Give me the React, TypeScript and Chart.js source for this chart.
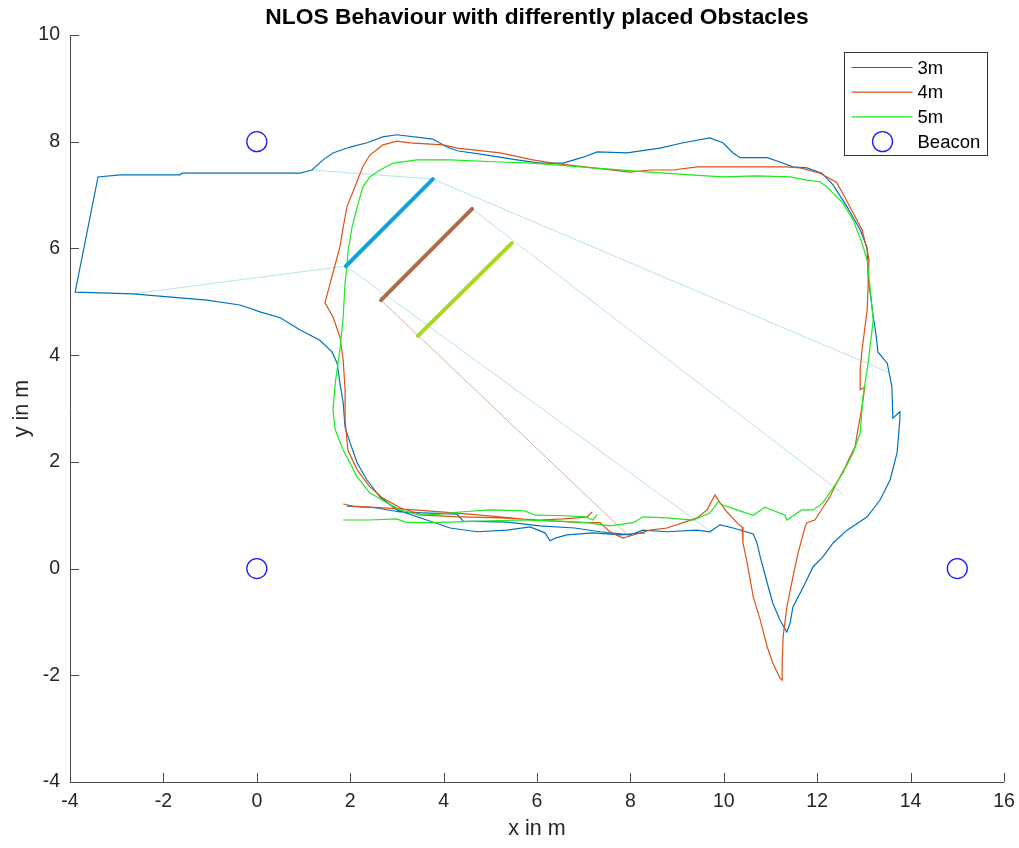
import { useEffect, useRef } from "react";
import { Chart, registerables } from "chart.js";

Chart.register(...registerables);

const TITLE = "NLOS Behaviour with differently placed Obstacles";
const X_LABEL = "x in m";
const Y_LABEL = "y in m";
const X_MIN = -4;
const X_MAX = 16;
const Y_MIN = -4;
const Y_MAX = 10;
const TICK_STEP = 2;

// Trajectory with the obstacle at 3 m
const track3mX = [
  1.93, 2.53, 3.07, 3.71, 4.29, 4.42, 5.36, 6.06, 6.81, 7.35,
  7.99, 8.27, 8.78, 9.43, 9.70, 9.92, 10.20, 10.63, 10.71, 10.78,
  10.93, 11.05, 11.20, 11.35, 11.42, 11.48, 11.70, 11.91, 12.12, 12.34,
  12.64, 13.07, 13.35, 13.56, 13.71, 13.77, 13.77, 13.62, 13.60, 13.50,
  13.30, 13.26, 13.20, 13.09, 13.07, 12.92, 12.64, 12.34, 12.10, 11.78,
  11.48, 11.20, 10.93, 10.35, 10.20, 9.98, 9.70, 9.13, 8.63, 7.93,
  7.29, 6.99, 6.56, 6.06, 5.57, 4.93, 4.29, 4.07, 3.77, 3.00,
  2.70, 2.36, 2.00, 1.63, 1.42, 1.18, 0.93, -0.36, -1.60, -1.65,
  -2.93, -3.40, -3.89, -2.65, -1.07, -0.36, 0.07, 0.50, 0.93, 1.35,
  1.61, 1.72, 1.78, 1.85, 1.89, 2.00, 2.15, 2.36, 2.64, 3.00,
  3.64, 4.14, 4.72, 5.36, 5.85, 6.17, 6.28, 6.39, 6.64, 7.20, 7.78, 8.31,
];
const track3mY = [
  1.17, 1.14, 1.06, 1.04, 1.02, 0.89, 0.87, 0.80, 0.76, 0.69,
  0.63, 0.72, 0.69, 0.72, 0.69, 0.82, 0.76, 0.65, 0.48, 0.22,
  -0.27, -0.65, -0.96, -1.19, -1.02, -0.72, -0.35, 0.03, 0.22, 0.48,
  0.72, 0.97, 1.29, 1.66, 2.17, 2.79, 2.94, 2.82, 3.40, 3.85,
  4.06, 4.38, 4.72, 5.47, 6.01, 6.35, 6.78, 7.19, 7.41, 7.51,
  7.53, 7.62, 7.70, 7.70, 7.79, 7.98, 8.07, 7.98, 7.88, 7.79,
  7.81, 7.71, 7.60, 7.60, 7.66, 7.75, 7.83, 7.90, 8.05, 8.13,
  8.09, 7.98, 7.90, 7.79, 7.66, 7.47, 7.41, 7.41, 7.41, 7.38,
  7.38, 7.34, 5.18, 5.15, 5.03, 4.94, 4.81, 4.70, 4.47, 4.28,
  4.06, 3.85, 3.48, 3.10, 2.65, 2.35, 1.98, 1.66, 1.34, 1.10,
  0.91, 0.76, 0.69, 0.72, 0.78, 0.67, 0.52, 0.57, 0.63, 0.67, 0.63, 0.67,
];

// Trajectory with the obstacle at 4 m
const track4mX = [
  1.85, 2.06, 3.07, 4.29, 5.21, 5.91, 6.99, 7.35, 7.56, 7.84,
  8.06, 8.42, 8.78, 9.13, 9.43, 9.64, 9.81, 9.92, 10.07, 10.28,
  10.39, 10.41, 10.50, 10.63, 10.78, 10.93, 11.05, 11.20, 11.25, 11.25,
  11.27, 11.35, 11.48, 11.59, 11.74, 11.78, 11.95, 12.06, 12.27, 12.45,
  12.60, 12.70, 12.81, 12.87, 12.96, 13.02, 12.92, 12.92, 12.96, 13.07,
  13.11, 13.07, 12.96, 12.70, 12.42, 12.21, 12.06, 11.63, 11.35, 10.71,
  9.98, 9.43, 8.91, 8.42, 7.99, 7.20, 6.34, 5.91, 5.21, 4.29,
  3.99, 3.28, 3.00, 2.70, 2.42, 2.27, 2.10, 1.93, 1.85, 1.78,
  1.63, 1.46, 1.63, 1.78, 1.85, 1.89, 1.89, 1.95, 2.15, 2.42,
  2.70, 3.07, 3.56, 4.35, 5.21, 6.06, 6.56, 6.86, 7.07, 7.18,
];
const track4mY = [
  1.21, 1.17, 1.12, 1.04, 0.97, 0.91, 0.86, 0.86, 0.69, 0.57,
  0.63, 0.72, 0.76, 0.86, 0.95, 1.10, 1.38, 1.23, 1.06, 0.86,
  0.78, 0.48, 0.11, -0.53, -0.96, -1.47, -1.77, -2.05, -2.09, -1.77,
  -1.28, -0.72, -0.16, 0.29, 0.78, 0.86, 0.91, 1.06, 1.34, 1.66,
  1.90, 2.09, 2.28, 2.60, 3.03, 3.40, 3.35, 3.72, 4.10, 4.85,
  5.78, 5.97, 6.35, 6.78, 7.23, 7.34, 7.41, 7.51, 7.53, 7.53,
  7.53, 7.53, 7.47, 7.47, 7.43, 7.51, 7.60, 7.66, 7.79, 7.88,
  7.94, 7.98, 8.01, 7.94, 7.75, 7.53, 7.15, 6.78, 6.40, 6.03,
  5.54, 4.98, 4.72, 4.34, 3.91, 3.35, 2.79, 2.22, 1.85, 1.53,
  1.32, 1.14, 1.00, 0.97, 0.95, 0.91, 0.93, 0.95, 0.97, 1.06,
];

// Trajectory with the obstacle at 5 m
const track5mX = [
  1.85, 2.42, 3.00, 3.17, 3.56, 4.14, 4.78, 5.64, 6.49, 7.07,
  7.56, 8.06, 8.27, 8.78, 9.34, 9.70, 9.88, 9.98, 10.28, 10.63,
  10.88, 11.14, 11.31, 11.35, 11.67, 11.91, 12.12, 12.34, 12.55, 12.77,
  12.92, 12.98, 13.09, 13.20, 13.13, 13.07, 12.96, 12.77, 12.55, 12.21,
  12.06, 11.78, 11.42, 10.71, 9.98, 9.28, 8.42, 7.20, 5.91, 5.21,
  4.14, 3.43, 2.92, 2.64, 2.42, 2.27, 2.15, 2.04, 1.95, 1.93,
  1.89, 1.85, 1.78, 1.68, 1.63, 1.68, 1.85, 2.15, 2.42, 2.79,
  3.07, 3.49, 3.92, 4.35, 4.99, 5.74, 5.96, 6.60, 7.03, 7.20, 7.29,
];
const track5mY = [
  0.91, 0.91, 0.93, 0.87, 0.86, 0.87, 0.89, 0.91, 0.89, 0.86,
  0.80, 0.86, 0.97, 0.95, 0.91, 1.04, 1.25, 1.19, 1.10, 1.00,
  1.15, 1.06, 1.00, 0.91, 1.10, 1.10, 1.23, 1.51, 1.79, 2.17,
  2.54, 3.22, 3.85, 4.66, 5.28, 5.78, 6.10, 6.53, 6.85, 7.15,
  7.25, 7.28, 7.34, 7.36, 7.34, 7.38, 7.43, 7.51, 7.60, 7.62,
  7.66, 7.66, 7.60, 7.47, 7.34, 7.15, 6.78, 6.40, 5.92, 5.65,
  5.35, 4.72, 4.10, 3.48, 2.97, 2.60, 2.22, 1.72, 1.42, 1.23,
  1.10, 1.00, 1.02, 1.06, 1.10, 1.08, 1.00, 0.99, 0.97, 0.91, 1.02,
];

const beaconX = [0, 0, 15];
const beaconY = [8, 0, 0];

// Obstacles (start/end points)
const obstacleX = [
  [1.91, 3.77],
  [2.66, 4.61],
  [3.45, 5.46],
];
const obstacleY = [
  [5.67, 7.3],
  [5.03, 6.74],
  [4.36, 6.1],
];

// Thin connecting lines
const rayX = [
  [1.18, 3.77],
  [3.77, 13.52],
  [-2.65, 1.91],
  [1.91, 9.73],
  [4.61, 12.55],
  [2.66, 7.99],
];
const rayY = [
  [7.47, 7.3],
  [7.3, 3.68],
  [5.15, 5.67],
  [5.67, 0.69],
  [6.74, 1.4],
  [5.03, 0.59],
];

const TRACK_COLORS = ["#0072BD", "#D95319", "#1ee81e"];
const OBSTACLE_COLORS = ["#0aa3e3", "#a86d4c", "#a6d81e"];
const RAY_COLORS = ["#b8e2ee", "#b8e2ee", "#b8e2ee", "#b8e2ee", "#b8e2ee", "#d9b39c"];
const BEACON_COLOR = "#1a1aff";
const FONT = "'Liberation Sans', Arial, Helvetica, sans-serif";

const toPoints = (xs: number[], ys: number[]) => xs.map((x, i) => ({ x, y: ys[i] }));

const decorPlugin = {
  id: "decor",
  afterDatasetsDraw(chart: any) {
    const { ctx, chartArea, scales } = chart;
    const { left, right, top, bottom } = chartArea;
    ctx.save();
    // axes + inward ticks
    ctx.strokeStyle = "#4a4a4a";
    ctx.lineWidth = 1;
    ctx.beginPath();
    ctx.moveTo(left + 0.5, top);
    ctx.lineTo(left + 0.5, bottom + 0.5);
    ctx.lineTo(right, bottom + 0.5);
    for (let v = X_MIN; v <= X_MAX; v += TICK_STEP) {
      const px = Math.round(scales.x.getPixelForValue(v)) + 0.5;
      ctx.moveTo(px, bottom);
      ctx.lineTo(px, bottom - 9);
    }
    for (let v = Y_MIN; v <= Y_MAX; v += TICK_STEP) {
      const py = Math.round(scales.y.getPixelForValue(v)) + 0.5;
      ctx.moveTo(left, py);
      ctx.lineTo(left + 9, py);
    }
    ctx.stroke();

    // title
    ctx.fillStyle = "#000";
    ctx.font = `bold 22.8px ${FONT}`;
    ctx.textAlign = "center";
    ctx.textBaseline = "middle";
    ctx.fillText(TITLE, (left + right) / 2, 18);

    // legend
    const items = chart.data.datasets.filter((d: any) => d.inLegend);
    const bw = 143;
    const bh = 103;
    const bx = Math.round(right - 17 - bw) + 0.5;
    const by = Math.round(top + 17) + 0.5;
    ctx.fillStyle = "#fff";
    ctx.fillRect(bx, by, bw, bh);
    ctx.strokeStyle = "#333";
    ctx.lineWidth = 1;
    ctx.strokeRect(bx, by, bw, bh);
    ctx.font = `18.5px ${FONT}`;
    ctx.textAlign = "left";
    ctx.textBaseline = "middle";
    items.forEach((d: any, i: number) => {
      const cy = by + 15 + i * 24.7;
      if (d.showLine === false) {
        ctx.beginPath();
        ctx.strokeStyle = d.borderColor;
        ctx.lineWidth = 1.3;
        ctx.arc(bx + 38, cy, 10, 0, Math.PI * 2);
        ctx.stroke();
      } else {
        ctx.beginPath();
        ctx.strokeStyle = d.borderColor;
        ctx.lineWidth = 1.2;
        ctx.moveTo(bx + 7, cy);
        ctx.lineTo(bx + 68, cy);
        ctx.stroke();
      }
      ctx.fillStyle = "#000";
      ctx.fillText(d.label, bx + 73, cy + 1);
    });
    ctx.restore();
  },
};

export default function App() {
  const canvasRef = useRef<HTMLCanvasElement | null>(null);

  useEffect(() => {
    document.body.style.margin = "0";
    const canvas = canvasRef.current;
    if (!canvas) return;

    const trackSets = [
      { label: "3m", xs: track3mX, ys: track3mY },
      { label: "4m", xs: track4mX, ys: track4mY },
      { label: "5m", xs: track5mX, ys: track5mY },
    ].map((t, i) => ({
      label: t.label,
      inLegend: true,
      data: toPoints(t.xs, t.ys),
      showLine: true,
      borderColor: TRACK_COLORS[i],
      backgroundColor: TRACK_COLORS[i],
      borderWidth: 1.2,
      pointRadius: 0,
      tension: 0,
      order: 4 - i,
    }));

    const beaconSet = {
      label: "Beacon",
      inLegend: true,
      data: toPoints(beaconX, beaconY),
      showLine: false,
      pointStyle: "circle",
      pointRadius: 10,
      pointBorderWidth: 1.3,
      borderColor: BEACON_COLOR,
      pointBorderColor: BEACON_COLOR,
      backgroundColor: "rgba(0,0,0,0)",
      pointBackgroundColor: "rgba(0,0,0,0)",
      order: 1,
    };

    const obstacleSets = obstacleX.map((xs, i) => ({
      label: `obstacle ${i + 3}m`,
      inLegend: false,
      data: toPoints(xs, obstacleY[i]),
      showLine: true,
      borderColor: OBSTACLE_COLORS[i],
      backgroundColor: OBSTACLE_COLORS[i],
      borderWidth: 4,
      borderCapStyle: "round",
      pointRadius: 0,
      order: 0,
    }));

    const raySets = rayX.map((xs, i) => ({
      label: `ray ${i}`,
      inLegend: false,
      data: toPoints(xs, rayY[i]),
      showLine: true,
      borderColor: RAY_COLORS[i],
      backgroundColor: RAY_COLORS[i],
      borderWidth: 1,
      pointRadius: 0,
      order: 6,
    }));

    const chart = new Chart(canvas, {
      type: "scatter",
      data: { datasets: [...trackSets, beaconSet, ...obstacleSets, ...raySets] as any },
      options: {
        animation: false,
        responsive: true,
        maintainAspectRatio: false,
        layout: { padding: { top: 35, right: 15, left: 0, bottom: 0 } },
        plugins: {
          legend: { display: false },
          tooltip: { enabled: false },
          title: { display: false },
        },
        scales: {
          x: {
            type: "linear",
            min: X_MIN,
            max: X_MAX,
            grid: { display: false, drawTicks: false },
            border: { display: false },
            ticks: {
              stepSize: TICK_STEP,
              padding: 8,
              color: "#262626",
              font: { family: FONT, size: 19.5 },
              maxRotation: 0,
            },
            title: {
              display: true,
              text: X_LABEL,
              color: "#262626",
              font: { family: FONT, size: 21.5 },
              padding: { top: 0, bottom: 6 },
            },
            afterFit: (s: any) => {
              s.height = 66;
              s.paddingRight = 0;
              s.paddingLeft = 0;
            },
          },
          y: {
            type: "linear",
            min: Y_MIN,
            max: Y_MAX,
            grid: { display: false, drawTicks: false },
            border: { display: false },
            ticks: {
              stepSize: TICK_STEP,
              padding: 10,
              color: "#262626",
              font: { family: FONT, size: 19.5 },
            },
            title: {
              display: true,
              text: Y_LABEL,
              color: "#262626",
              font: { family: FONT, size: 21.5 },
              padding: { top: 9, bottom: 0 },
            },
            afterFit: (s: any) => {
              s.width = 70;
            },
          },
        },
      },
      plugins: [decorPlugin],
    });

    return () => chart.destroy();
  }, []);

  return (
    <div style={{ width: 1019, height: 848, position: "relative" }}>
      <canvas ref={canvasRef} />
    </div>
  );
}
